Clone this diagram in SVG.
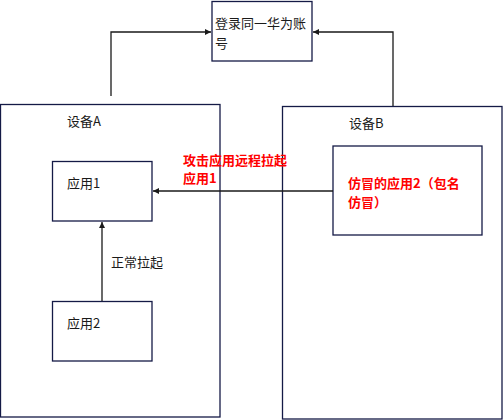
<svg xmlns="http://www.w3.org/2000/svg" width="504" height="420" viewBox="0 0 504 420">
<defs>
<style>
.box{fill:#ffffff;stroke:#141a46;stroke-width:1.3}
.t{font-family:"Noto Sans CJK SC","Liberation Sans",sans-serif;font-size:13px;fill:#1a1a1a}
.r{font-family:"Noto Sans CJK SC","Liberation Sans",sans-serif;font-size:13px;fill:#ff0000;font-weight:bold}
.ln{fill:none;stroke:#1a1a1a;stroke-width:1.3}
</style>
<marker id="ah" viewBox="0 0 10 10" refX="10" refY="5" markerWidth="6" markerHeight="6" markerUnits="userSpaceOnUse" orient="auto">
<path d="M0,0 L10,5 L0,10 z" fill="#1a1a1a"/>
</marker>
</defs>
<rect width="504" height="420" fill="#ffffff"/>
<g id="deviceA">
<rect class="box" x="0.5" y="104.5" width="219.5" height="312.5"/>
<text class="t" x="67" y="126">设备A</text>
</g>
<g id="deviceB">
<rect class="box" x="282.5" y="106.5" width="219.5" height="312.5"/>
<text class="t" x="349" y="128">设备B</text>
</g>
<g id="account">
<rect class="box" x="212" y="1.5" width="100" height="59.5"/>
<text class="t" x="215" y="28">登录同一华为账</text>
<text class="t" x="215" y="48">号</text>
</g>
<g id="app1">
<rect class="box" x="52.5" y="161.5" width="99.5" height="59.5"/>
<text class="t" x="67" y="188">应用1</text>
</g>
<g id="app2">
<rect class="box" x="52.5" y="301.5" width="99.5" height="59.5"/>
<text class="t" x="67" y="328">应用2</text>
</g>
<g id="fakeApp">
<rect class="box" x="333" y="146" width="149" height="89"/>
<text class="r" x="348" y="188">仿冒的应用2（包名</text>
<text class="r" x="348" y="207">仿冒）</text>
</g>
<g id="connectors">
<polyline class="ln" points="111,96 111,32 211,32" marker-end="url(#ah)"/>
<polyline class="ln" points="393,106 393,32 313,32" marker-end="url(#ah)"/>
<line class="ln" x1="102" y1="301" x2="102" y2="222" marker-end="url(#ah)"/>
<line class="ln" x1="333" y1="191" x2="153" y2="191" marker-end="url(#ah)"/>
<text class="t" x="111" y="267">正常拉起</text>
<text class="r" x="183" y="165">攻击应用远程拉起</text>
<text class="r" x="183" y="183">应用1</text>
</g>
</svg>
